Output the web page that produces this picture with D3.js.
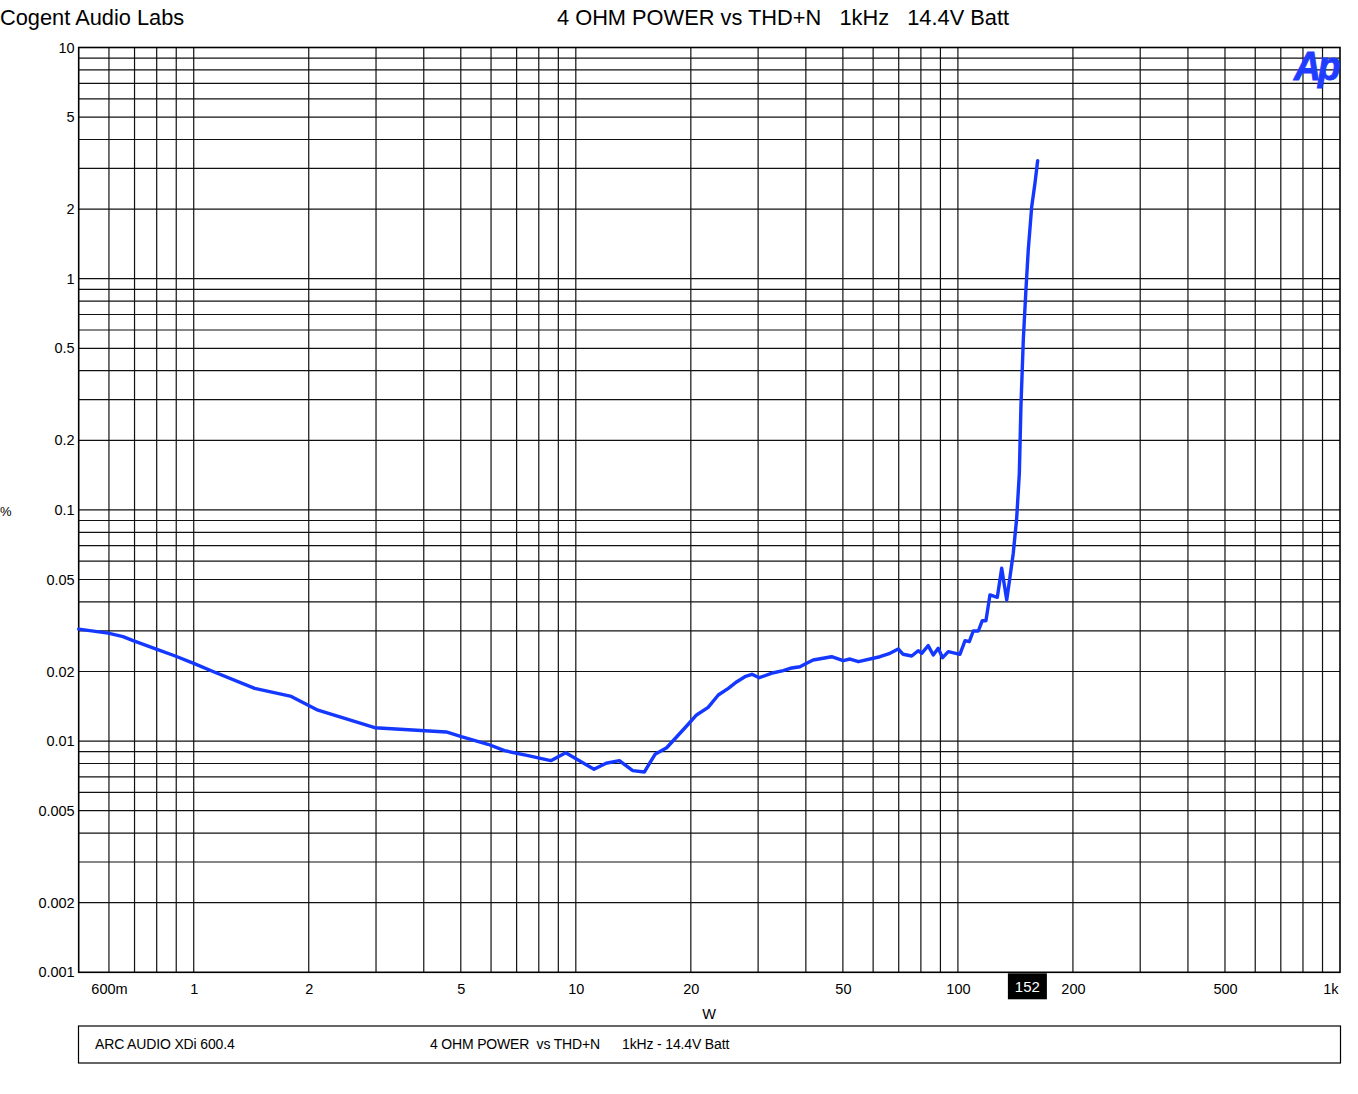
<!DOCTYPE html>
<html>
<head>
<meta charset="utf-8">
<script src="https://cdn.jsdelivr.net/npm/d3@7"></script>
<style>
  html, body { margin: 0; padding: 0; background: #fff; }
  svg { display: block; }
  text { font-family: "Liberation Sans", Arial, sans-serif; fill: #000; }
</style>
</head>
<body>
<svg id="chart" width="1358" height="1094"></svg>
<script>
// ---- data ----
const powerW = [0.5, 0.597, 0.653, 0.694, 0.798, 0.891, 1.0, 1.123, 1.444, 1.80, 2.114, 2.977, 4.58, 5.015, 5.89, 6.51, 7.50, 8.60, 9.41, 11.16, 12.0, 13.0, 14.09, 15.11, 16.12, 17.29, 19.5, 20.7, 22.2, 23.6, 25.07, 26.4, 27.7, 28.9, 30.2, 32.9, 34.9, 36.4, 38.6, 40.2, 41.8, 46.7, 50.1, 52.2, 54.9, 62.5, 66.4, 69.8, 71.9, 75.7, 78.7, 80.4, 83.6, 86.2, 88.8, 91.2, 94.4, 101.2, 104.4, 107.1, 109.7, 113.1, 115.8, 118.4, 121.3, 126.8, 130.2, 134.2, 136.9, 139.6, 142.5, 144.8, 146.2, 148.3, 150.5, 152.8, 156.0, 159.1, 161.7];
const thdPct = [0.0305, 0.0293, 0.0283, 0.0272, 0.0250, 0.0234, 0.0217, 0.0200, 0.0169, 0.0156, 0.0136, 0.01143, 0.01095, 0.01045, 0.00969, 0.00909, 0.00865, 0.00823, 0.00891, 0.00755, 0.00802, 0.00823, 0.00745, 0.00735, 0.00877, 0.00936, 0.01162, 0.01297, 0.0140, 0.01583, 0.01692, 0.01807, 0.01899, 0.01945, 0.0188, 0.01976, 0.02016, 0.02065, 0.02098, 0.0217, 0.02243, 0.02317, 0.02227, 0.02265, 0.02205, 0.02317, 0.02398, 0.02503, 0.02374, 0.02334, 0.0246, 0.02398, 0.02587, 0.02358, 0.02521, 0.02295, 0.02437, 0.02374, 0.02718, 0.02692, 0.02994, 0.02994, 0.03317, 0.03317, 0.04285, 0.04188, 0.0559, 0.04076, 0.05142, 0.06493, 0.092, 0.1439, 0.2796, 0.543, 0.865, 1.331, 2.048, 2.587, 3.237];

const xTickValues = [0.6, 1, 2, 5, 10, 20, 50, 100, 200, 500, 1000];
const xTickLabels = ["600m", "1", "2", "5", "10", "20", "50", "100", "200", "500", "1k"];
const yTickValues = [10, 5, 2, 1, 0.5, 0.2, 0.1, 0.05, 0.02, 0.01, 0.005, 0.002, 0.001];
const yTickLabels = ["10", "5", "2", "1", "0.5", "0.2", "0.1", "0.05", "0.02", "0.01", "0.005", "0.002", "0.001"];
const cursorValue = 152;
const chartTitle = "4 OHM POWER vs THD+N   1kHz   14.4V Batt";
const companyLabel = "Cogent Audio Labs";
const xAxisTitle = "W";
const yAxisTitle = "%";
const legendDevice = "ARC AUDIO XDi 600.4";
const legendTest = "4 OHM POWER  vs THD+N";
const legendCond = "1kHz - 14.4V Batt";

// ---- layout ----
const pLeft = 78.7, pRight = 1340, pTop = 47.5, pBottom = 972.3;
const svg = d3.select("#chart");

const x = d3.scaleLog().domain([0.5, 1000]).range([pLeft, pRight]);
const y = d3.scaleLog().domain([0.001, 10]).range([pBottom, pTop]);

// grid values: every 1..9 multiple
const xGrid = [];
[0.1, 1, 10, 100].forEach(d => { for (let k = 1; k <= 9; k++) { const v = +(d * k).toPrecision(3); if (v > 0.5 && v < 1000) xGrid.push(v); } });
const yGrid = [];
[0.001, 0.01, 0.1, 1].forEach(d => { for (let k = 1; k <= 9; k++) { const v = +(d * k).toPrecision(3); if (v > 0.001 && v < 10) yGrid.push(v); } });

const grid = svg.append("g");
grid.selectAll("line.vx").data(xGrid).join("line")
  .attr("x1", d => x(d)).attr("x2", d => x(d))
  .attr("y1", pTop).attr("y2", pBottom)
  .attr("stroke", "#111").attr("stroke-width", 1.2);
grid.selectAll("line.hy").data(yGrid).join("line")
  .attr("y1", d => y(d)).attr("y2", d => y(d))
  .attr("x1", pLeft).attr("x2", pRight)
  .attr("stroke", "#111").attr("stroke-width", 1.2);

svg.append("rect")
  .attr("x", pLeft).attr("y", pTop)
  .attr("width", pRight - pLeft).attr("height", pBottom - pTop)
  .attr("fill", "none").attr("stroke", "#000").attr("stroke-width", 1.6);

// y axis labels
const yAxis = d3.axisLeft(y).tickValues(yTickValues).tickSize(0).tickPadding(4)
  .tickFormat((d, i) => yTickLabels[i]);
const gy = svg.append("g").attr("transform", `translate(${pLeft},0)`).call(yAxis);
gy.select(".domain").remove();
gy.selectAll("text").style("font-family", "'Liberation Sans', Arial, sans-serif").style("font-size", "14.5px").attr("fill", "#000");

// x axis labels
const xAxis = d3.axisBottom(x).tickValues(xTickValues).tickSize(0).tickPadding(11)
  .tickFormat((d, i) => xTickLabels[i]);
const gx = svg.append("g").attr("transform", `translate(0,${pBottom})`).call(xAxis);
gx.select(".domain").remove();
gx.selectAll("text").style("font-family", "'Liberation Sans', Arial, sans-serif").style("font-size", "14.5px").attr("fill", "#000");
gx.selectAll(".tick").filter(d => d === 1000).select("text").attr("text-anchor", "end").attr("x", -2);

// cursor marker
const cx = x(cursorValue);
svg.append("rect").attr("x", cx - 19.5).attr("y", pBottom + 1).attr("width", 39).attr("height", 26).attr("fill", "#000");
svg.append("text").attr("x", cx).attr("y", pBottom + 19.5).attr("text-anchor", "middle")
  .style("font-size", "15px").style("fill", "#fff").text(String(cursorValue));

// axis titles
svg.append("text").attr("x", 709).attr("y", 1019).attr("text-anchor", "middle").style("font-size", "14.5px").text(xAxisTitle);
svg.append("text").attr("x", 0).attr("y", 516).style("font-size", "13px").text(yAxisTitle);

// titles
svg.append("text").attr("x", 0).attr("y", 25).style("font-size", "21.8px").text(companyLabel);
svg.append("text").attr("x", 557).attr("y", 25).style("font-size", "21.8px").style("white-space", "pre").text(chartTitle);

// Ap logo
svg.append("text").attr("x", 1294).attr("y", 80)
  .attr("textLength", 44).attr("lengthAdjust", "spacingAndGlyphs")
  .style("font-size", "40px").style("font-weight", "bold").style("font-style", "italic")
  .style("fill", "#1f3cff").style("stroke", "#1f3cff").style("stroke-width", 1)
  .style("letter-spacing", "-3px").text("Ap");

// data line
const pts = powerW.map((p, i) => [p, thdPct[i]]);
const line = d3.line().x(d => x(d[0])).y(d => y(d[1])).curve(d3.curveLinear);
svg.append("path").datum(pts).attr("d", line)
  .attr("fill", "none").attr("stroke", "#1438ff").attr("stroke-width", 3.4)
  .attr("stroke-linejoin", "round").attr("stroke-linecap", "round");

// legend box
svg.append("rect").attr("x", 78.5).attr("y", 1026).attr("width", 1262).attr("height", 37)
  .attr("fill", "none").attr("stroke", "#000").attr("stroke-width", 1.2);
svg.append("text").attr("x", 95).attr("y", 1049).style("font-size", "14px").style("letter-spacing", "-0.15px").text(legendDevice);
svg.append("text").attr("x", 430).attr("y", 1049).style("font-size", "14px").style("letter-spacing", "-0.18px").style("white-space", "pre").text(legendTest);
svg.append("text").attr("x", 622).attr("y", 1049).style("font-size", "14px").style("letter-spacing", "-0.15px").style("white-space", "pre").text(legendCond);
</script>
</body>
</html>
